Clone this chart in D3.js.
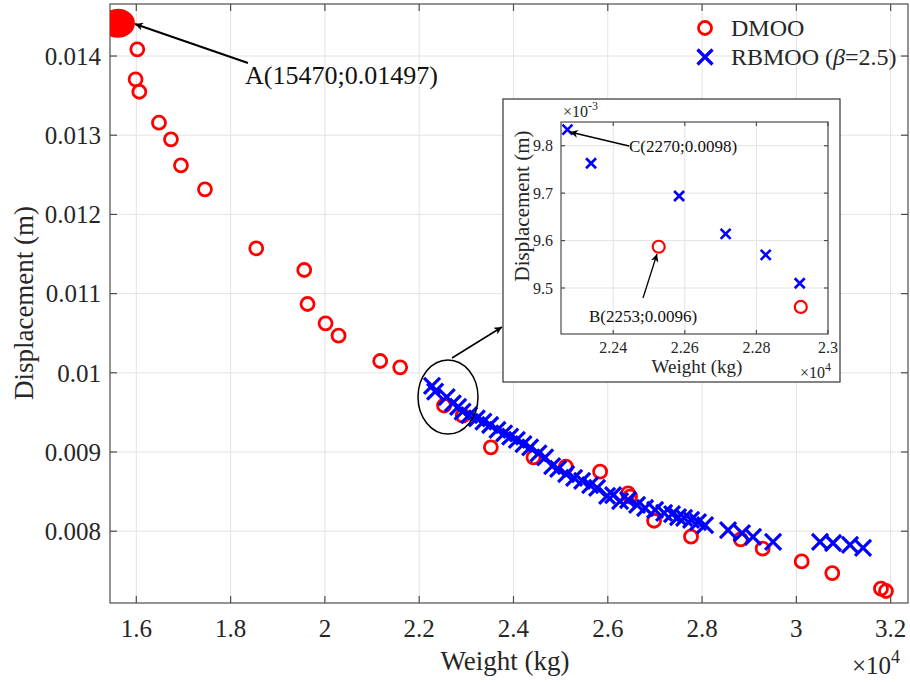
<!DOCTYPE html>
<html>
<head>
<meta charset="utf-8">
<script src="https://cdn.jsdelivr.net/npm/d3@7"></script>
<style>
  body { margin: 0; background: #fff; }
  svg text { font-family: "Liberation Serif", "Times New Roman", serif; fill: #262626; }
</style>
</head>
<body>
<div id="chart"></div>
<script>
// DMOO results (weight kg, displacement m)
const dmooWeight = [16021, 15985, 16064, 16481, 16735, 16947, 17456, 18544, 19562, 19632, 20014, 20290, 21173, 21597,
  22527, 22924, 23520, 24424, 25111, 25838, 26431, 26473, 26982, 27766, 28820, 29285, 30113, 30762, 31795, 31901]
const dmooDisp = [0.014085, 0.013706, 0.013549, 0.013158, 0.012948, 0.012620, 0.012317, 0.011572, 0.011298, 0.010869,
  0.010625, 0.010469, 0.010149, 0.010069, 0.009587, 0.009460, 0.009059, 0.008933, 0.008815, 0.008752, 0.008478,
  0.008436, 0.008132, 0.007931, 0.007897, 0.007779, 0.007619, 0.007471, 0.007274, 0.007245]

// RBMOO (beta = 2.5) results
const rbWeight = [22272, 22338, 22584, 22714, 22826, 22921, 23060, 23223, 23363, 23505, 23660, 23802, 23930, 24072,
  24212, 24354, 24530, 24672, 24820, 24947, 25117, 25286, 25456, 25626, 25774, 25986, 26113, 26262, 26431, 26622,
  26792, 27004, 27195, 27364, 27491, 27619, 27767, 27915, 28064, 28551, 28848, 29081, 29506, 30502, 30778, 31138, 31414]
const rbDisp = [0.009834, 0.009763, 0.009694, 0.009614, 0.009570, 0.009510, 0.009467, 0.009426, 0.009383, 0.009341,
  0.009278, 0.009236, 0.009193, 0.009152, 0.009101, 0.009059, 0.008984, 0.008933, 0.008823, 0.008786, 0.008722,
  0.008672, 0.008634, 0.008583, 0.008546, 0.008445, 0.008457, 0.008381, 0.008394, 0.008331, 0.008293, 0.008268,
  0.008230, 0.008217, 0.008179, 0.008167, 0.008142, 0.008116, 0.008078, 0.008015, 0.007977, 0.007927, 0.007864,
  0.007864, 0.007851, 0.007826, 0.007788]

// highlighted point A (lightest design)
const pointA = [15610, 0.014413]

const xTicks = [16000, 18000, 20000, 22000, 24000, 26000, 28000, 30000, 32000]
const yTicks = [0.008, 0.009, 0.01, 0.011, 0.012, 0.013, 0.014]
const insetXTicks = [22400, 22600, 22800, 23000]
const insetYTicks = [0.0095, 0.0096, 0.0097, 0.0098]

const width = 910, height = 682
const margin = [4, 2, 79, 110] // top right bottom left
const red = "#ff0000", blue = "#0000ff"

const svg = d3.create("svg")
  .attr("width", width)
  .attr("height", height)
  .attr("viewBox", [0, 0, width, height])
  .attr("font-family", "Liberation Serif, Times New Roman, serif")

const defs = svg.append("defs")
defs.append("marker")
  .attr("id", "arrow")
  .attr("viewBox", "0 0 10 10")
  .attr("refX", 10).attr("refY", 5)
  .attr("markerWidth", 10).attr("markerHeight", 8)
  .attr("markerUnits", "userSpaceOnUse")
  .attr("orient", "auto")
  .append("path")
  .attr("d", "M0,0 L10,5 L0,10 L3,5 Z")
  .attr("fill", "#000")

// axes frame helper, MATLAB style (box on, inward ticks, grid)
function drawAxes(g, x, y, opt) {
  const [x0, x1] = x.range(), [y1, y0] = y.range()
  const grid = g.append("g").attr("stroke", "#e3e3e3").attr("stroke-width", 1)
  grid.selectAll(".gx").data(opt.xTicks).join("line")
    .attr("x1", d => x(d)).attr("x2", d => x(d)).attr("y1", y0).attr("y2", y1)
  grid.selectAll(".gy").data(opt.yTicks).join("line")
    .attr("y1", d => y(d)).attr("y2", d => y(d)).attr("x1", x0).attr("x2", x1)

  const ax = g.append("g").attr("stroke", "#4d4d4d").attr("stroke-width", 1.2)
  ax.append("rect").attr("x", x0).attr("y", y0).attr("width", x1 - x0).attr("height", y1 - y0).attr("fill", "none")
  const tl = opt.tickLen
  opt.xTicks.forEach(d => {
    ax.append("line").attr("x1", x(d)).attr("x2", x(d)).attr("y1", y1).attr("y2", y1 - tl)
    ax.append("line").attr("x1", x(d)).attr("x2", x(d)).attr("y1", y0).attr("y2", y0 + tl)
  })
  opt.yTicks.forEach(d => {
    ax.append("line").attr("y1", y(d)).attr("y2", y(d)).attr("x1", x0).attr("x2", x0 + tl)
    ax.append("line").attr("y1", y(d)).attr("y2", y(d)).attr("x1", x1).attr("x2", x1 - tl)
  })

  g.append("g").selectAll("text").data(opt.xTicks).join("text")
    .attr("x", d => x(d)).attr("y", y1 + opt.xLabelDy)
    .attr("text-anchor", "middle")
    .attr("font-size", opt.fontSize)
    .text(opt.xFormat)
  g.append("g").selectAll("text").data(opt.yTicks).join("text")
    .attr("x", x0 - opt.yLabelDx).attr("y", d => y(d))
    .attr("dy", "0.35em")
    .attr("text-anchor", "end")
    .attr("font-size", opt.fontSize)
    .text(opt.yFormat)
}

function crossPath(s) {
  return `M${-s},${-s}L${s},${s}M${-s},${s}L${s},${-s}`
}

// ---------- main axes ----------
const x = d3.scaleLinear().domain([15442, 32368]).range([margin[3], width - margin[1]])
const y = d3.scaleLinear().domain([0.0070934, 0.014657]).range([height - margin[2], margin[0]])

const main = svg.append("g")
drawAxes(main, x, y, {
  xTicks, yTicks, tickLen: 7, fontSize: 25, xLabelDy: 34, yLabelDx: 9,
  xFormat: d => d3.format("~g")(d / 1e4),
  yFormat: d => d3.format("~g")(d)
})

main.append("text")
  .attr("x", 505).attr("y", 670)
  .attr("text-anchor", "middle").attr("font-size", 27)
  .text("Weight (kg)")
main.append("text")
  .attr("transform", "translate(33,303) rotate(-90)")
  .attr("text-anchor", "middle").attr("font-size", 27)
  .text("Displacement (m)")
const expMain = main.append("text").attr("x", 852).attr("y", 674).attr("font-size", 25)
expMain.append("tspan").text("×10")
expMain.append("tspan").attr("dy", -11).attr("font-size", 18).text("4")

const clipMain = defs.append("clipPath").attr("id", "clipMain")
clipMain.append("rect").attr("x", margin[3]).attr("y", margin[0])
  .attr("width", width - margin[1] - margin[3]).attr("height", height - margin[2] - margin[0])

const plot = main.append("g").attr("clip-path", "url(#clipMain)")
const I = d3.range(dmooWeight.length)
const J = d3.range(rbWeight.length)

plot.append("g")
  .attr("fill", "none").attr("stroke", red).attr("stroke-width", 2.8)
  .selectAll("circle").data(I).join("circle")
  .attr("cx", i => x(dmooWeight[i])).attr("cy", i => y(dmooDisp[i])).attr("r", 6.5)

plot.append("g")
  .attr("fill", "none").attr("stroke", blue).attr("stroke-width", 3.2)
  .selectAll("path").data(J).join("path")
  .attr("transform", i => `translate(${x(rbWeight[i])},${y(rbDisp[i])})`)
  .attr("d", crossPath(8))

plot.append("ellipse")
  .attr("cx", x(pointA[0])).attr("cy", y(pointA[1]))
  .attr("rx", 17).attr("ry", 14.5)
  .attr("fill", red)

// annotation A
main.append("line")
  .attr("x1", 248).attr("y1", 63).attr("x2", 135).attr("y2", 24)
  .attr("stroke", "#000").attr("stroke-width", 2)
  .attr("marker-end", "url(#arrow)")
main.append("text")
  .attr("x", 245).attr("y", 84).attr("font-size", 26)
  .style("fill", "#111")
  .text("A(15470;0.01497)")

// ellipse around the zoomed region + arrow to inset
main.append("ellipse")
  .attr("cx", 448).attr("cy", 397).attr("rx", 30).attr("ry", 37)
  .attr("fill", "none").attr("stroke", "#000").attr("stroke-width", 1.5)
main.append("line")
  .attr("x1", 452).attr("y1", 358).attr("x2", 502).attr("y2", 327)
  .attr("stroke", "#000").attr("stroke-width", 1.5)
  .attr("marker-end", "url(#arrow)")

// legend
const legend = main.append("g")
legend.append("circle").attr("cx", 705).attr("cy", 28).attr("r", 6.5)
  .attr("fill", "none").attr("stroke", red).attr("stroke-width", 2.8)
legend.append("text").attr("x", 731).attr("y", 36).attr("font-size", 24).text("DMOO")
legend.append("path").attr("transform", "translate(705,57)").attr("d", crossPath(7.5))
  .attr("stroke", blue).attr("stroke-width", 3.2)
const lt = legend.append("text").attr("x", 731).attr("y", 65).attr("font-size", 24)
lt.append("tspan").text("RBMOO (")
lt.append("tspan").attr("font-style", "italic").text("β")
lt.append("tspan").text("=2.5)")

// ---------- inset ----------
const inset = svg.append("g")
inset.append("rect")
  .attr("x", 503).attr("y", 99).attr("width", 337).attr("height", 283)
  .attr("fill", "#fff").attr("stroke", "#333").attr("stroke-width", 1.2)

const xi = d3.scaleLinear().domain([22254, 23000]).range([561, 828])
const yi = d3.scaleLinear().domain([0.009403, 0.00985]).range([334, 122])

drawAxes(inset, xi, yi, {
  xTicks: insetXTicks, yTicks: insetYTicks, tickLen: 4, fontSize: 16, xLabelDy: 19, yLabelDx: 8,
  xFormat: d => d3.format("~g")(d / 1e4),
  yFormat: d => d3.format(".1f")(d * 1e3)
})
inset.append("text")
  .attr("x", 697).attr("y", 373)
  .attr("text-anchor", "middle").attr("font-size", 19)
  .text("Weight (kg)")
inset.append("text")
  .attr("transform", "translate(529,206) rotate(-90)")
  .attr("text-anchor", "middle").attr("font-size", 21)
  .text("Displacement (m)")
const expI1 = inset.append("text").attr("x", 563).attr("y", 117).attr("font-size", 16)
expI1.append("tspan").text("×10")
expI1.append("tspan").attr("dy", -7).attr("font-size", 12).text("-3")
const expI2 = inset.append("text").attr("x", 800).attr("y", 378).attr("font-size", 16)
expI2.append("tspan").text("×10")
expI2.append("tspan").attr("dy", -7).attr("font-size", 12).text("4")

const clipIn = defs.append("clipPath").attr("id", "clipIn")
clipIn.append("rect").attr("x", 556).attr("y", 117).attr("width", 277).attr("height", 222)
const ip = inset.append("g").attr("clip-path", "url(#clipIn)")
const inX = w => w >= 22200 && w <= 23010
ip.append("g")
  .attr("fill", "none").attr("stroke", red).attr("stroke-width", 2.2)
  .selectAll("circle").data(I.filter(i => inX(dmooWeight[i]))).join("circle")
  .attr("cx", i => xi(dmooWeight[i])).attr("cy", i => yi(dmooDisp[i])).attr("r", 6)
ip.append("g")
  .attr("fill", "none").attr("stroke", blue).attr("stroke-width", 2.6)
  .selectAll("path").data(J.filter(i => inX(rbWeight[i]))).join("path")
  .attr("transform", i => `translate(${xi(rbWeight[i])},${yi(rbDisp[i])})`)
  .attr("d", crossPath(5))

// annotations C and B
inset.append("line")
  .attr("x1", 629).attr("y1", 146).attr("x2", 570).attr("y2", 132)
  .attr("stroke", "#000").attr("stroke-width", 1.3)
  .attr("marker-end", "url(#arrow)")
inset.append("text").attr("x", 629).attr("y", 152).attr("font-size", 17).style("fill", "#111")
  .text("C(2270;0.0098)")
inset.append("line")
  .attr("x1", 643).attr("y1", 298).attr("x2", 657).attr("y2", 254)
  .attr("stroke", "#000").attr("stroke-width", 1.3)
  .attr("marker-end", "url(#arrow)")
inset.append("text").attr("x", 589).attr("y", 322).attr("font-size", 17).style("fill", "#111")
  .text("B(2253;0.0096)")

document.querySelector("#chart").append(svg.node())
</script>
</body>
</html>
